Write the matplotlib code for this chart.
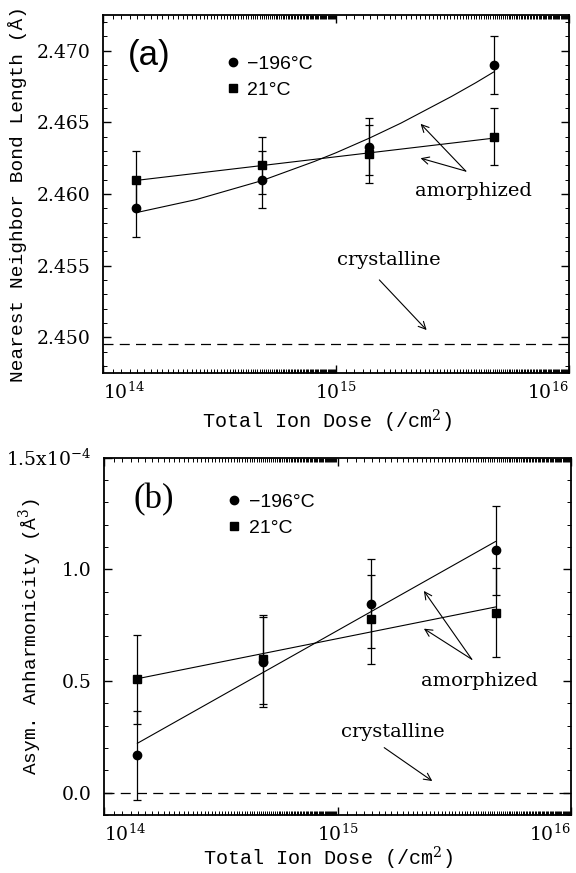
import numpy as np
import matplotlib
matplotlib.use("Agg")
import matplotlib.pyplot as plt
from matplotlib.ticker import LogLocator, MultipleLocator, FuncFormatter, NullFormatter, FixedLocator
from matplotlib.lines import Line2D

# ---------------- data ----------------
dose = [1.39e14, 4.8e14, 1.39e15, 4.75e15]
labels = ["\u2212196\u00b0C", "21\u00b0C"]
xtick_vals = [1e14, 1e15, 1e16]
xtick_labels = ["$10^{14}$", "$10^{15}$", "$10^{16}$"]

# (a) nearest neighbour bond length (Angstrom)
bond_cold = [2.4590, 2.4610, 2.4633, 2.4690]
bond_room = [2.4610, 2.4620, 2.4628, 2.4640]
bond_cold_err = [0.002, 0.002, 0.002, 0.002]
bond_room_err = [0.002, 0.002, 0.002, 0.002]
bond_fit_cold_dose = [1.39e14, 2.51e14, 4.8e14, 8.07e14, 1.0e15, 1.39e15, 1.9e15, 3.13e15, 3.98e15, 4.75e15]
bond_fit_cold = [2.45870, 2.45961, 2.46093, 2.46227, 2.46288, 2.46390, 2.46495, 2.46681, 2.46777, 2.46852]
bond_fit_room_dose = [1.39e14, 4.75e15]
bond_fit_room = [2.46095, 2.4639]
bond_crystal = 2.4495

# (b) asymmetric anharmonicity (units of 1e-4 Angstrom^3)
anh_cold = [0.167, 0.585, 0.846, 1.085]
anh_room = [0.507, 0.597, 0.775, 0.806]
anh_cold_err = [0.2, 0.2, 0.2, 0.2]
anh_room_err = [0.2, 0.2, 0.2, 0.2]
anh_fit_dose = [1.39e14, 4.75e15]
anh_fit_cold = [0.221, 1.124]
anh_fit_room = [0.510, 0.831]
anh_crystal = 0.0

# ---------------- style ----------------
plt.rcParams["mathtext.fontset"] = "dejavuserif"
SERIF = "DejaVu Serif"
MONO = "Liberation Mono"
ANN = "DejaVu Serif"
SANS = "Liberation Sans"

fig = plt.figure(figsize=(5.76, 8.73), dpi=100)
ax1 = fig.add_axes([103 / 576, 1 - 373 / 873, 466 / 576, 358 / 873])
ax2 = fig.add_axes([104 / 576, 1 - 815 / 873, 467 / 576, 357.5 / 873])


def style_axis(ax, xlabel_y):
    ax.set_xscale("log")
    ax.xaxis.set_major_locator(FixedLocator(xtick_vals))
    ax.xaxis.set_minor_locator(LogLocator(base=10, subs=np.arange(1.0, 10.0, 0.1), numticks=400))
    ax.xaxis.set_minor_formatter(NullFormatter())
    ax.tick_params(which="both", direction="in", top=True, right=True, width=1.0)
    ax.tick_params(which="major", length=6, labelsize=13.5)
    ax.tick_params(axis="x", which="major", pad=6)
    ax.tick_params(axis="y", which="major", pad=9)
    ax.tick_params(which="minor", length=3, width=0.7)
    for sp in ax.spines.values():
        sp.set_linewidth(1.3)
    ax.set_xlabel("Total Ion Dose (/cm$^2$)", fontsize=14.5, family=MONO)
    ax.xaxis.set_label_coords(0.48, xlabel_y)


def finish_x(ax):
    ax.set_xlim(1e14, 1e16)
    tl = ax.set_xticklabels(xtick_labels)
    tl[0].set_ha("left")
    tl[-1].set_ha("right")
    for lab in ax.get_xticklabels() + ax.get_yticklabels():
        lab.set_fontfamily(SERIF)


def draw_panel(ax, ycold, yroom, ecold, eroom, fxc, fyc, fxr, fyr, ycryst, leg_y):
    kw = dict(color="black", ecolor="black", elinewidth=0.9, capsize=3, capthick=0.9, linestyle="none")
    ax.errorbar(dose, ycold, yerr=ecold, marker="o", markersize=6, **kw)
    ax.errorbar(dose, yroom, yerr=eroom, marker="s", markersize=5.5, **kw)
    ax.plot(fxc, fyc, color="black", lw=0.8)
    ax.plot(fxr, fyr, color="black", lw=0.8)
    ax.axhline(ycryst, color="black", lw=0.9, ls=(0, (8, 5)))
    handles = [Line2D([], [], marker="o", color="black", ls="none", markersize=6),
               Line2D([], [], marker="s", color="black", ls="none", markersize=5.5)]
    ax.legend(handles, labels, loc="upper left", bbox_to_anchor=(0.262, leg_y), frameon=False,
              handlelength=0.8, handletextpad=0.35, borderpad=0, borderaxespad=0,
              labelspacing=0.45, prop={"family": SANS, "size": 14})


def arrow(ax, tail, head):
    ax.annotate("", xy=head, xytext=tail,
                arrowprops=dict(arrowstyle="->", lw=0.8, color="black",
                                shrinkA=0, shrinkB=0, mutation_scale=13))


# ---------------- panel (a) ----------------
style_axis(ax1, -0.098)
draw_panel(ax1, bond_cold, bond_room, bond_cold_err, bond_room_err,
           bond_fit_cold_dose, bond_fit_cold, bond_fit_room_dose, bond_fit_room, bond_crystal, 0.888)
ax1.set_ylim(2.4475, 2.4725)
ax1.yaxis.set_major_locator(MultipleLocator(0.005))
ax1.yaxis.set_minor_locator(MultipleLocator(0.001))
ax1.yaxis.set_major_formatter(FuncFormatter(lambda v, p: f"{v:.3f}"))
ax1.set_ylabel("Nearest Neighbor Bond Length (\u00c5)", fontsize=14, family=MONO)
ax1.yaxis.set_label_coords(-0.163, 0.5)
ax1.text(10 ** 14.2, 2.4697, "(a)", fontsize=25, family=SANS, ha="center", va="center")
ax1.text(10 ** 15.588, 2.4602, "amorphized", fontsize=14, family=ANN, ha="center", va="center")
arrow(ax1, (10 ** 15.557, 2.4616), (10 ** 15.363, 2.4649))
arrow(ax1, (10 ** 15.557, 2.4616), (10 ** 15.363, 2.4625))
ax1.text(10 ** 15.228, 2.4554, "crystalline", fontsize=14, family=ANN, ha="center", va="center")
arrow(ax1, (10 ** 15.186, 2.4540), (10 ** 15.389, 2.4505))
finish_x(ax1)

# ---------------- panel (b) ----------------
style_axis(ax2, -0.084)
draw_panel(ax2, anh_cold, anh_room, anh_cold_err, anh_room_err,
           anh_fit_dose, anh_fit_cold, anh_fit_dose, anh_fit_room, anh_crystal, 0.90)
ax2.set_ylim(-0.1, 1.5)
ax2.yaxis.set_major_locator(MultipleLocator(0.5))
ax2.yaxis.set_minor_locator(MultipleLocator(0.1))
ax2.yaxis.set_major_formatter(FuncFormatter(
    lambda v, p: "1.5x10$^{-4}$" if abs(v - 1.5) < 1e-9 else f"{v:.1f}"))
ax2.set_ylabel("Asym. Anharmonicity (\u00c5$^3$)", fontsize=14, family=MONO)
ax2.yaxis.set_label_coords(-0.128, 0.5)
ax2.text(10 ** 14.213, 1.313, "(b)", fontsize=25, family="Liberation Serif", ha="center", va="center")
ax2.text(10 ** 15.61, 0.50, "amorphized", fontsize=14, family=ANN, ha="center", va="center")
arrow(ax2, (10 ** 15.575, 0.597), (10 ** 15.37, 0.903))
arrow(ax2, (10 ** 15.575, 0.597), (10 ** 15.37, 0.734))
ax2.text(10 ** 15.239, 0.272, "crystalline", fontsize=14, family=ANN, ha="center", va="center")
arrow(ax2, (10 ** 15.20, 0.2015), (10 ** 15.406, 0.052))
finish_x(ax2)

fig.savefig("out.png", dpi=100)
